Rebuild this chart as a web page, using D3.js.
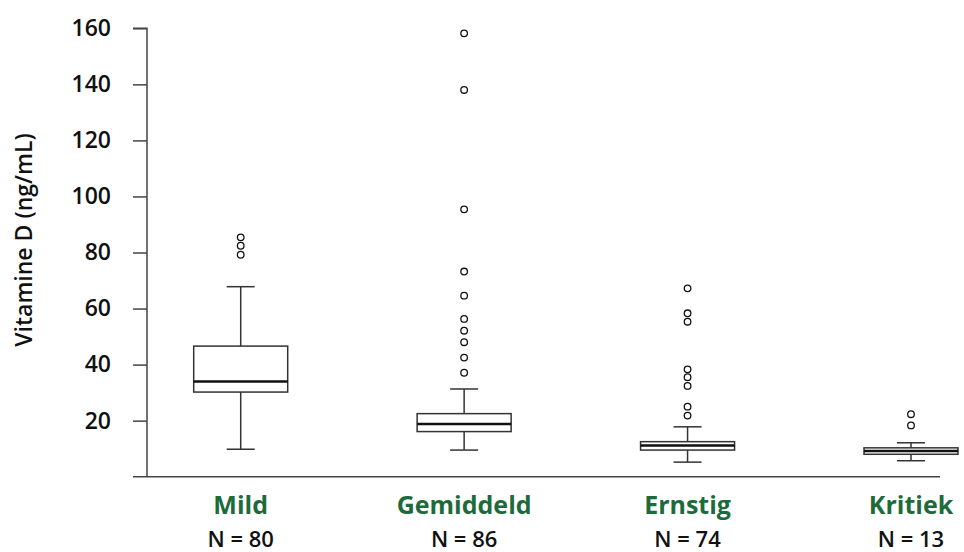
<!DOCTYPE html>
<html>
<head>
<meta charset="utf-8">
<style>
    body { margin: 0; background: #fff; }
    text { font-family: "Open Sans", "Noto Sans", sans-serif; font-weight: 600; }
    .axis path, .axis line { stroke: #444; stroke-width: 1.5px; }
    .axis text { fill: #111; font-size: 23px; font-weight: 600; }
    .box { fill: #fff; stroke: #333; stroke-width: 1.5px; }
    .whisker { stroke: #333; stroke-width: 1.5px; }
    .median { stroke: #111; stroke-width: 2.5px; }
    .outlier { fill: #fff; stroke: #111; stroke-width: 1.3px; }
    .catname { fill: #1d6b3a; font-size: 25px; font-weight: bold; }
    .ncount { fill: #111; font-size: 22px; }
</style>
</head>
<body>
<script src="https://cdn.jsdelivr.net/npm/d3@7"></script>
<script>

var width = 964, height = 552;

// data
var categories = ["Mild", "Gemiddeld", "Ernstig", "Kritiek"];
var counts = [80, 86, 74, 13];
var whiskerLow  = [9.8, 9.5, 5.2, 5.7];
var q1          = [30.2, 16.1, 9.5, 8.0];
var medians     = [34.0, 18.8, 11.1, 9.2];
var q3          = [46.6, 22.5, 12.5, 10.3];
var whiskerHigh = [67.8, 31.3, 17.8, 12.1];
var outliers = [
    [79.2, 82.4, 85.4],
    [37.1, 42.5, 48.0, 52.1, 56.3, 64.6, 73.2, 95.4, 138, 158.2],
    [21.8, 25.0, 32.4, 35.5, 38.3, 55.3, 58.3, 67.2],
    [18.3, 22.3]
];
var yTicks = [20, 40, 60, 80, 100, 120, 140, 160];

var svg = d3.select("body").append("svg")
        .attr("width", width)
        .attr("height", height);

var y = d3.scaleLinear().domain([0, 160]).range([476.7, 28.3]);
var x = d3.scalePoint().domain(categories).range([240.7, 911]);
var boxW = 94, capW = 28;

// y axis
var yAxis = svg.append("g")
        .attr("class", "axis")
        .attr("transform", "translate(147,0)")
        .call(d3.axisLeft(y).tickValues(yTicks).tickSize(14).tickPadding(22).tickSizeOuter(0));
yAxis.select(".domain").attr("d", "M0," + y(0) + "V" + y(160) + "H-14");

// bottom line
svg.append("line")
        .attr("x1", 133).attr("x2", 940)
        .attr("y1", y(0)).attr("y2", y(0))
        .style("stroke", "#444")
        .style("stroke-width", "1.5px");

svg.append("text")
        .attr("transform", "translate(32,240) rotate(-90)")
        .attr("text-anchor", "middle")
        .style("font-size", "23px")
        .style("fill", "#111")
        .text("Vitamine D (ng/mL)");

var groups = svg.selectAll(".grp")
        .data(categories)
        .enter().append("g")
        .attr("class", "grp");

// whisker stems
groups.append("line")
        .attr("class", "whisker")
        .attr("x1", function(d) { return x(d); })
        .attr("x2", function(d) { return x(d); })
        .attr("y1", function(d, i) { return y(whiskerLow[i]); })
        .attr("y2", function(d, i) { return y(whiskerHigh[i]); });

// caps
[whiskerLow, whiskerHigh].forEach(function(arr) {
    groups.append("line")
        .attr("class", "whisker")
        .attr("x1", function(d) { return x(d) - capW / 2; })
        .attr("x2", function(d) { return x(d) + capW / 2; })
        .attr("y1", function(d, i) { return y(arr[i]); })
        .attr("y2", function(d, i) { return y(arr[i]); });
});

// boxes
groups.append("rect")
        .attr("class", "box")
        .attr("x", function(d) { return x(d) - boxW / 2; })
        .attr("width", boxW)
        .attr("y", function(d, i) { return y(q3[i]); })
        .attr("height", function(d, i) { return y(q1[i]) - y(q3[i]); });

groups.append("line")
        .attr("class", "median")
        .attr("x1", function(d) { return x(d) - boxW / 2; })
        .attr("x2", function(d) { return x(d) + boxW / 2; })
        .attr("y1", function(d, i) { return y(medians[i]); })
        .attr("y2", function(d, i) { return y(medians[i]); });

// outliers
groups.each(function(d, i) {
    d3.select(this).selectAll(".outlier")
        .data(outliers[i])
        .enter().append("circle")
        .attr("class", "outlier")
        .attr("cx", x(d))
        .attr("cy", function(v) { return y(v); })
        .attr("r", 3.3);
});

// labels
groups.append("text")
        .attr("class", "catname")
        .attr("x", function(d) { return x(d); })
        .attr("y", 514)
        .attr("text-anchor", "middle")
        .text(function(d) { return d; });

groups.append("text")
        .attr("class", "ncount")
        .attr("x", function(d) { return x(d); })
        .attr("y", 547)
        .attr("text-anchor", "middle")
        .text(function(d, i) { return "N = " + counts[i]; });

</script>
</body>
</html>
